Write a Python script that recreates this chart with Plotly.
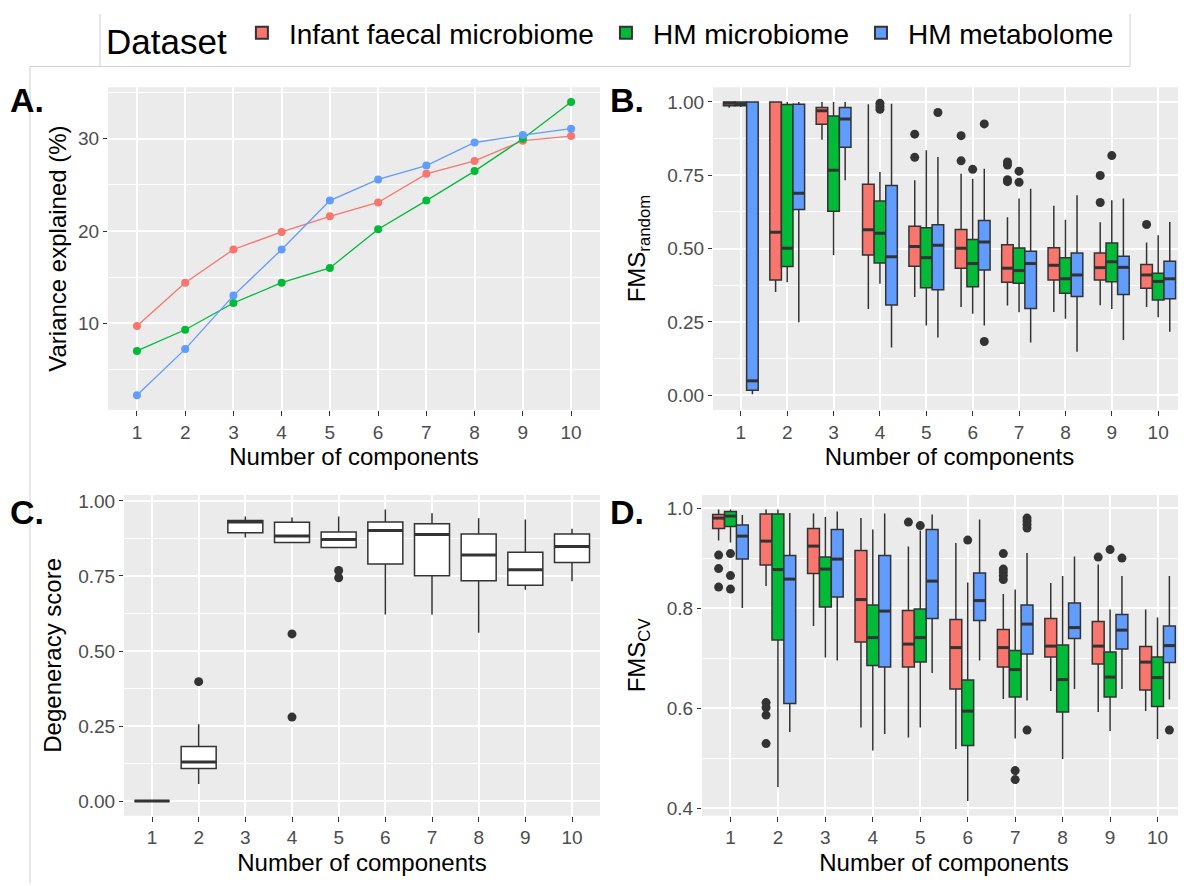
import plotly.graph_objects as go

# The page body has an 8px margin; layout coordinates below are given in
# screen pixels of the 1186x886 window and converted with that offset.
SCREEN_W, SCREEN_H = 1186, 886
OFF = 8
W, H = SCREEN_W - OFF, SCREEN_H - OFF
FONT = "Liberation Sans, Arial, sans-serif"

components = list(range(1, 11))
datasets = ["Infant faecal microbiome", "HM microbiome", "HM metabolome"]
colors = ["#F8766D", "#00BA38", "#619CFF"]

# ---------------- Panel A: variance explained (%) ----------------
var_infant = [9.7, 14.4, 18.0, 19.9, 21.6, 23.1, 26.2, 27.6, 29.8, 30.3]
var_hm_micro = [7.0, 9.3, 12.2, 14.4, 16.0, 20.2, 23.3, 26.5, 30.0, 34.0]
var_hm_metab = [2.2, 7.2, 13.0, 18.0, 23.3, 25.6, 27.1, 29.6, 30.4, 31.1]

# ---------------- Panel B: FMS random ----------------
b_inf_lo = [0.980, 0.352, 0.871, 0.294, 0.335, 0.301, 0.306, 0.284, 0.307, 0.301]
b_inf_q1 = [0.987, 0.393, 0.924, 0.478, 0.440, 0.433, 0.385, 0.393, 0.393, 0.365]
b_inf_med = [0.995, 0.556, 0.970, 0.564, 0.507, 0.501, 0.433, 0.443, 0.435, 0.410]
b_inf_q3 = [1.000, 1.000, 0.981, 0.719, 0.576, 0.565, 0.513, 0.503, 0.485, 0.446]
b_inf_hi = [1.000, 1.000, 1.000, 0.992, 0.733, 0.755, 0.607, 0.646, 0.590, 0.521]
b_inf_out_x = [5, 5, 6, 6, 7, 7, 7, 7, 9, 9, 10]
b_inf_out_y = [0.890, 0.811, 0.885, 0.799, 0.728, 0.735, 0.785, 0.795, 0.749, 0.657, 0.582]

b_mic_lo = [0.983, 0.385, 0.478, 0.380, 0.238, 0.278, 0.283, 0.261, 0.294, 0.266]
b_mic_q1 = [0.987, 0.439, 0.627, 0.451, 0.366, 0.370, 0.382, 0.348, 0.387, 0.325]
b_mic_med = [0.993, 0.501, 0.767, 0.552, 0.469, 0.449, 0.425, 0.397, 0.455, 0.388]
b_mic_q3 = [1.000, 0.991, 0.952, 0.662, 0.571, 0.531, 0.502, 0.469, 0.519, 0.416]
b_mic_hi = [1.000, 1.000, 1.000, 0.761, 0.835, 0.738, 0.671, 0.598, 0.665, 0.545]
b_mic_out_x = [4, 4, 4, 6, 7, 7, 9]
b_mic_out_y = [0.975, 0.985, 0.995, 0.770, 0.764, 0.726, 0.817]

b_met_lo = [0.003, 0.249, 0.733, 0.163, 0.197, 0.238, 0.180, 0.148, 0.188, 0.216]
b_met_q1 = [0.017, 0.633, 0.845, 0.308, 0.360, 0.427, 0.296, 0.337, 0.343, 0.329]
b_met_med = [0.049, 0.689, 0.942, 0.472, 0.511, 0.522, 0.449, 0.410, 0.436, 0.397]
b_met_q3 = [1.000, 0.992, 0.981, 0.715, 0.581, 0.596, 0.491, 0.485, 0.474, 0.457]
b_met_hi = [1.000, 1.000, 1.000, 0.994, 0.812, 0.772, 0.704, 0.682, 0.671, 0.591]
b_met_out_x = [5, 6, 6]
b_met_out_y = [0.964, 0.925, 0.183]

# ---------------- Panel C: degeneracy score ----------------
c_lo = [0.000, 0.057, 0.878, 0.861, 0.845, 0.622, 0.622, 0.561, 0.704, 0.732]
c_q1 = [0.000, 0.109, 0.894, 0.861, 0.845, 0.790, 0.751, 0.734, 0.719, 0.795]
c_med = [0.000, 0.130, 0.930, 0.883, 0.871, 0.901, 0.888, 0.820, 0.771, 0.848]
c_q3 = [0.000, 0.182, 0.935, 0.929, 0.896, 0.930, 0.924, 0.890, 0.829, 0.890]
c_hi = [0.000, 0.256, 0.948, 0.945, 0.948, 0.971, 0.959, 0.942, 0.938, 0.907]
c_out_x = [2, 4, 4, 5, 5]
c_out_y = [0.398, 0.557, 0.280, 0.768, 0.744]

# ---------------- Panel D: FMS CV ----------------
d_inf_lo = [0.935, 0.844, 0.764, 0.561, 0.541, 0.518, 0.618, 0.634, 0.592, 0.594]
d_inf_q1 = [0.959, 0.886, 0.869, 0.732, 0.682, 0.638, 0.682, 0.702, 0.688, 0.636]
d_inf_med = [0.980, 0.934, 0.924, 0.817, 0.728, 0.721, 0.721, 0.724, 0.724, 0.692]
d_inf_q3 = [0.987, 0.988, 0.959, 0.915, 0.795, 0.777, 0.757, 0.779, 0.773, 0.723]
d_inf_hi = [0.997, 0.997, 0.989, 0.980, 0.923, 0.930, 0.828, 0.850, 0.887, 0.797]
d_inf_out_x = [1, 1, 1, 2, 2, 2, 2, 5, 7, 7, 7, 7, 7, 9]
d_inf_out_y = [0.906, 0.879, 0.842, 0.611, 0.601, 0.586, 0.529, 0.972,
               0.909, 0.857, 0.865, 0.872, 0.878, 0.902]

d_mic_lo = [0.931, 0.442, 0.701, 0.515, 0.561, 0.414, 0.539, 0.498, 0.554, 0.538]
d_mic_q1 = [0.963, 0.736, 0.802, 0.685, 0.692, 0.525, 0.622, 0.592, 0.622, 0.603]
d_mic_med = [0.984, 0.877, 0.878, 0.741, 0.741, 0.594, 0.677, 0.657, 0.662, 0.661]
d_mic_q3 = [0.993, 0.988, 0.902, 0.806, 0.798, 0.656, 0.715, 0.726, 0.712, 0.702]
d_mic_hi = [0.997, 0.997, 0.982, 0.957, 0.955, 0.851, 0.837, 0.864, 0.797, 0.781]
d_mic_out_x = [1, 1, 1, 5, 6, 7, 7, 9]
d_mic_out_y = [0.909, 0.865, 0.838, 0.965, 0.936, 0.475, 0.457, 0.917]

d_met_lo = [0.800, 0.552, 0.695, 0.548, 0.670, 0.695, 0.615, 0.638, 0.638, 0.617]
d_met_q1 = [0.898, 0.609, 0.822, 0.682, 0.779, 0.775, 0.708, 0.739, 0.718, 0.691]
d_met_med = [0.944, 0.858, 0.898, 0.794, 0.854, 0.815, 0.768, 0.761, 0.756, 0.725]
d_met_q3 = [0.966, 0.905, 0.957, 0.905, 0.957, 0.870, 0.806, 0.810, 0.787, 0.764]
d_met_hi = [0.986, 0.990, 0.993, 0.989, 0.987, 0.977, 0.910, 0.903, 0.864, 0.864]
d_met_out_x = [7, 7, 7, 7, 7, 9, 10]
d_met_out_y = [0.960, 0.967, 0.974, 0.980, 0.556, 0.900, 0.556]

# ------------------------------------------------------------------
BOX_LINE = "#333333"
DODGE = 0.75          # ggplot default dodge width for boxplots


def pxx(p):
    return (p - OFF) / W


def pxy(p):
    return 1 - (p - OFF) / H


def gg_range(values, mult=0.05):
    lo, hi = min(values), max(values)
    span = hi - lo
    return [lo - mult * span, hi + mult * span]


def add_boxes(fig, xa, ya, stats, colors_, names, box_w, offsets, showlegend):
    for (lo, q1, med, q3, hi, ox, oy), col, nm, off in zip(stats, colors_, names, offsets):
        pos = [c + off for c in components]
        fig.add_trace(go.Box(
            x=pos, q1=q1, median=med, q3=q3, lowerfence=lo, upperfence=hi,
            width=box_w, fillcolor=col, line=dict(color=BOX_LINE, width=1.5),
            whiskerwidth=0, boxpoints=False, name=nm, legendgroup=nm,
            showlegend=showlegend, xaxis=xa, yaxis=ya, hoverinfo="skip"))
        # thicker median line (ggplot 'fatten')
        mx, my = [], []
        for p, m in zip(pos, med):
            mx += [p - box_w / 2, p + box_w / 2, None]
            my += [m, m, None]
        fig.add_trace(go.Scatter(
            x=mx, y=my, mode="lines", line=dict(color=BOX_LINE, width=3),
            showlegend=False, hoverinfo="skip", xaxis=xa, yaxis=ya))
        if ox:
            opos = [c + off for c in ox]
            fig.add_trace(go.Scatter(
                x=opos, y=oy, mode="markers",
                marker=dict(color=BOX_LINE, size=9, line=dict(width=0)),
                showlegend=False, hoverinfo="skip", xaxis=xa, yaxis=ya))


fig = go.Figure()

# Panel A lines
for vals, col, nm in zip([var_infant, var_hm_micro, var_hm_metab], colors, datasets):
    fig.add_trace(go.Scatter(
        x=components, y=vals, mode="lines+markers",
        line=dict(color=col, width=1.3), marker=dict(color=col, size=8),
        showlegend=False, name=nm, xaxis="x", yaxis="y", hoverinfo="skip"))

dodge_offsets = [(i - 1) * DODGE / 3 for i in range(3)]

b_stats = [
    (b_inf_lo, b_inf_q1, b_inf_med, b_inf_q3, b_inf_hi, b_inf_out_x, b_inf_out_y),
    (b_mic_lo, b_mic_q1, b_mic_med, b_mic_q3, b_mic_hi, b_mic_out_x, b_mic_out_y),
    (b_met_lo, b_met_q1, b_met_med, b_met_q3, b_met_hi, b_met_out_x, b_met_out_y),
]
add_boxes(fig, "x2", "y2", b_stats, colors, datasets, DODGE / 3, dodge_offsets, True)

c_stats = [(c_lo, c_q1, c_med, c_q3, c_hi, c_out_x, c_out_y)]
add_boxes(fig, "x3", "y3", c_stats, ["white"], ["Degeneracy"], DODGE, [0], False)

d_stats = [
    (d_inf_lo, d_inf_q1, d_inf_med, d_inf_q3, d_inf_hi, d_inf_out_x, d_inf_out_y),
    (d_mic_lo, d_mic_q1, d_mic_med, d_mic_q3, d_mic_hi, d_mic_out_x, d_mic_out_y),
    (d_met_lo, d_met_q1, d_met_med, d_met_q3, d_met_hi, d_met_out_x, d_met_out_y),
]
add_boxes(fig, "x4", "y4", d_stats, colors, datasets, DODGE / 3, dodge_offsets, False)

# ranges (ggplot-like expansion)
x_range = [components[0] - 0.6, components[-1] + 0.6]
a_range = gg_range(var_infant + var_hm_micro + var_hm_metab)
b_range = gg_range([0.0] + b_inf_hi + b_mic_hi + b_met_hi + b_met_lo)
c_range = gg_range(c_lo + c_hi + c_out_y)
d_range = gg_range(d_inf_lo + d_mic_lo + d_met_lo + d_inf_hi + d_mic_hi + d_met_hi)

tickfont = dict(family=FONT, size=19, color="#4D4D4D")
titlefont = dict(family=FONT, size=24, color="black")


def xaxis(dom, anchor):
    return dict(domain=dom, anchor=anchor, range=x_range, tickmode="array",
                tickvals=components, ticktext=[str(c) for c in components],
                showgrid=True, gridcolor="white", gridwidth=1.6, zeroline=False,
                showline=False, ticks="outside", ticklen=5, tickwidth=1.2,
                tickcolor="#333333", tickfont=tickfont, ticklabelstandoff=0,
                title=dict(text="Number of components", font=titlefont, standoff=6))


def yaxis(dom, anchor, rng, dtick, minor, fmt, title, standoff):
    return dict(domain=dom, anchor=anchor, range=rng, tickmode="linear", tick0=0,
                dtick=dtick, tickformat=fmt, showgrid=True, gridcolor="white",
                gridwidth=1.6, zeroline=False, showline=False, ticks="outside",
                ticklen=4, tickwidth=1.2, tickcolor="#333333", tickfont=tickfont,
                minor=dict(tick0=0, dtick=minor, showgrid=True, gridcolor="white",
                           gridwidth=0.8, ticks=""),
                title=dict(text=title, font=titlefont, standoff=standoff))


rowA = [pxy(408), pxy(82)]
rowC = [pxy(818), pxy(494)]

fig.update_layout(
    width=W, height=H, margin=dict(l=0, r=0, t=0, b=0),
    paper_bgcolor="white", plot_bgcolor="#EBEBEB",
    font=dict(family=FONT, color="black"),
    boxmode="overlay",
    xaxis=xaxis([pxx(108), pxx(600)], "y"),
    yaxis=yaxis(rowA, "x", a_range, 10, 5, "d", "Variance explained (%)", 4),
    xaxis2=xaxis([pxx(713), 1.0], "y2"),
    yaxis2=yaxis(rowA, "x2", b_range, 0.25, 0.125, ".2f", "FMS<sub>random</sub>", 14),
    xaxis3=xaxis([pxx(124), pxx(600)], "y3"),
    yaxis3=yaxis(rowC, "x3", c_range, 0.25, 0.125, ".2f", "Degeneracy score", 9),
    xaxis4=xaxis([pxx(702), 1.0], "y4"),
    yaxis4=yaxis(rowC, "x4", d_range, 0.2, 0.1, ".1f", "FMS<sub>CV</sub>", 14),
    legend=dict(orientation="h", x=pxx(104), xanchor="left", y=pxy(2), yanchor="top",
                bgcolor="rgba(0,0,0,0)", borderwidth=0, itemwidth=44,
                font=dict(family=FONT, size=28, color="black"),
                title=dict(text="Dataset", side="left",
                           font=dict(family=FONT, size=35, color="black")),
                itemsizing="constant", tracegroupgap=0),
)

# panel letters
for lbl, x, y in [("A.", 8, 95), ("B.", 608, 95), ("C.", 8, 511), ("D.", 608, 511)]:
    fig.add_annotation(text=f"<b>{lbl}</b>", xref="paper", yref="paper",
                       x=pxx(x), y=pxy(y), xanchor="left", yanchor="middle",
                       showarrow=False, font=dict(family=FONT, size=34, color="black"))

# thin frame lines around the legend box and the panel image
frame = dict(color="#D0D0D0", width=1)
fig.add_shape(type="path", xref="paper", yref="paper", line=frame,
              path=f"M {pxx(100)},1 L {pxx(100)},{pxy(61)} M {pxx(1130)},1 L {pxx(1130)},{pxy(61)}")
fig.add_shape(type="path", xref="paper", yref="paper", line=frame,
              path=f"M {pxx(30)},0 L {pxx(30)},{pxy(61)} L {pxx(1130)},{pxy(61)}")

fig.write_html("out.html")
